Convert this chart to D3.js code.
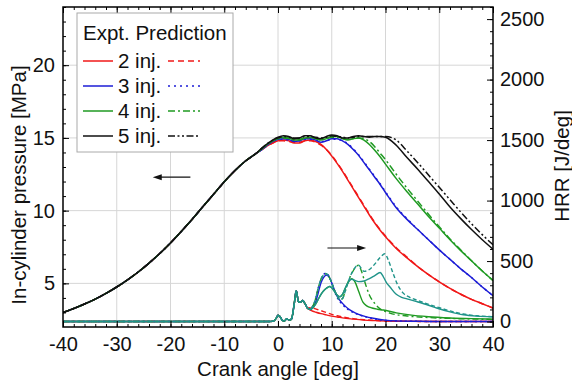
<!DOCTYPE html>
<html>
<head>
<meta charset="utf-8">
<script src="https://cdn.jsdelivr.net/npm/d3@7"></script>
<style>
  body { margin: 0; background: #fff; }
  svg { display: block; font-family: "Liberation Sans", Arial, sans-serif; }
</style>
</head>
<body>
<script>
// ---- data ----
const compAngles = [-40,-38,-36,-34,-32,-30,-28,-26,-24,-22,-20,-18,-16,-14,-12,-10,-8,-6,-4];
const compPressure = [3.0,3.27,3.58,3.92,4.31,4.75,5.24,5.78,6.39,7.05,7.78,8.57,9.39,10.26,11.12,11.98,12.76,13.43,13.95];

const combAngles = [-3,-2,-1,0,1,2,3,4,5,6,7,8,9,10,11,12,13,14,15,16,17,18,19,20,22,24,26,28,30,32,34,36,38,40];
const p2Expt = [14.2,14.45,14.65,14.8,14.85,14.8,14.65,14.65,14.8,14.85,14.75,14.55,14.2,13.75,13.25,12.7,12.1,11.5,10.9,10.3,9.7,9.15,8.65,8.2,7.4,6.75,6.15,5.6,5.1,4.65,4.25,3.9,3.6,3.3];
const p2Pred = [14.2,14.45,14.65,14.8,14.8,14.75,14.7,14.7,14.8,14.8,14.7,14.5,14.2,13.8,13.3,12.75,12.15,11.55,10.95,10.35,9.75,9.2,8.7,8.25,7.45,6.8,6.15,5.6,5.1,4.65,4.25,3.9,3.6,3.3];
const p3Expt = [14.2,14.5,14.75,14.9,14.95,14.9,14.75,14.8,14.95,14.95,14.85,14.7,14.8,14.95,14.95,14.8,14.55,14.2,13.8,13.3,12.8,12.3,11.8,11.25,10.2,9.4,8.7,8.0,7.3,6.65,6.0,5.4,4.75,4.15];
const p3Pred = [14.2,14.5,14.75,14.9,14.9,14.85,14.8,14.8,14.9,14.9,14.85,14.75,14.8,14.9,14.9,14.8,14.6,14.25,13.85,13.35,12.85,12.35,11.85,11.3,10.25,9.45,8.7,8.0,7.3,6.65,6.0,5.4,4.75,4.15];
const p4Expt = [14.25,14.55,14.8,14.95,15.05,15.0,14.85,14.85,15.0,15.05,14.95,14.85,14.95,15.1,15.1,14.95,14.85,14.95,15.0,14.85,14.55,14.15,13.7,13.2,12.2,11.3,10.45,9.6,8.8,8.0,7.25,6.55,5.85,5.2];
const p4Pred = [14.25,14.55,14.8,14.95,15.0,14.95,14.85,14.9,15.0,15.0,14.95,14.9,14.95,15.05,15.05,14.95,14.9,14.95,15.0,14.95,14.75,14.4,13.95,13.5,12.5,11.55,10.65,9.75,8.9,8.05,7.3,6.55,5.85,5.2];
const p5Expt = [14.3,14.6,14.85,15.05,15.15,15.1,14.95,15.0,15.15,15.15,15.0,14.95,15.1,15.2,15.15,15.0,15.0,15.1,15.15,15.1,15.05,15.1,15.1,15.05,14.5,13.65,12.85,12.0,11.15,10.25,9.45,8.7,8.0,7.35];
const p5Pred = [14.3,14.6,14.85,15.0,15.1,15.05,15.0,15.0,15.1,15.1,15.05,15.0,15.05,15.15,15.1,15.05,15.0,15.05,15.1,15.1,15.1,15.1,15.1,15.1,14.85,14.1,13.3,12.45,11.6,10.75,9.9,9.1,8.35,7.65];

// heat release rate [deg, J/deg]; all cases share the first-injection part
const hrrEarly = [[-40,0],[-3,0],[-1.5,0],[-0.8,5],[-0.3,30],[0,52],[0.4,40],[0.8,10],[1.2,5],[1.6,22],[2.1,12],[2.5,20],[3,140],[3.4,255],[3.8,165],[4.2,160],[4.6,175],[5,150],[5.5,110]];
const hrr2Expt = [[6,95],[6.5,85],[7,78],[8,65],[9,55],[10,45],[11,38],[12,30],[14,20],[16,12],[18,8],[20,5],[24,2],[30,0],[40,0]];
const hrr2Pred = [[6,115],[6.5,112],[7,105],[8,90],[9,75],[10,60],[11,48],[12,38],[14,24],[16,15],[18,9],[20,5],[24,2],[30,0],[40,0]];
const hrr3Expt = [[6,100],[6.5,120],[7,160],[7.5,240],[8,320],[8.5,365],[9,385],[9.5,370],[10,320],[10.5,260],[11,210],[12,150],[13,108],[14,80],[15,60],[16,45],[18,25],[20,12],[22,6],[26,2],[30,0],[40,0]];
const hrr3Pred = [[6,105],[6.5,130],[7,190],[7.5,280],[8,350],[8.5,390],[9,400],[9.5,375],[10,315],[10.5,250],[11,200],[12,140],[13,100],[14,75],[15,56],[16,42],[18,22],[20,10],[22,5],[26,2],[30,0],[40,0]];
const hrr4Expt = [[6,100],[6.5,115],[7,145],[7.5,185],[8,225],[8.5,255],[9,275],[9.6,290],[10,280],[10.5,250],[11,220],[11.5,205],[12,225],[12.5,275],[13,320],[13.7,355],[14.3,330],[15,250],[15.8,160],[16.5,130],[17.5,112],[18.5,102],[19.6,95],[22,72],[24.5,55],[28,40],[32,30],[36,24],[40,20]];
const hrr4Pred = [[6,105],[6.5,130],[7,190],[7.5,280],[8,350],[8.5,385],[9,395],[9.5,370],[10,320],[10.5,260],[11,210],[11.5,180],[12,190],[12.5,250],[13,320],[13.5,380],[14,420],[14.5,455],[15,465],[15.5,420],[16.2,320],[17,220],[18,150],[19,105],[20.8,70],[24,46],[28,33],[32,26],[36,21],[40,18]];
const hrr5Expt = [[6,100],[6.5,115],[7,145],[7.5,185],[8,225],[8.5,255],[9,275],[9.6,290],[10,280],[10.5,250],[11,220],[11.5,205],[12,225],[12.5,275],[13,320],[13.7,350],[14.3,340],[15,330],[16,335],[17,355],[18,380],[19,405],[19.6,370],[20.2,320],[20.8,288],[22,225],[23,200],[24,188],[25.8,165],[28,135],[29.5,112],[32,80],[34.5,56],[37,45],[40,40]];
const hrr5Pred = [[6,105],[6.5,130],[7,190],[7.5,280],[8,350],[8.5,385],[9,395],[9.5,370],[10,320],[10.5,260],[11,210],[11.5,180],[12,190],[12.5,250],[13,320],[13.5,380],[14,420],[14.5,455],[15,465],[15.5,440],[16,415],[17,430],[18,475],[19,530],[19.9,560],[20.5,510],[21.4,400],[22.3,300],[23.3,235],[24.5,200],[25.8,178],[27.5,150],[29.5,122],[32,88],[34.5,62],[37,48],[40,40]];

const xTicks = [-40,-30,-20,-10,0,10,20,30,40];
const pTicks = [5,10,15,20];
const hrrTicks = [0,500,1000,1500,2000,2500];
const legendLabels = ["2 inj.","3 inj.","4 inj.","5 inj."];

// ---- styles ----
const colors = ["#f01818","#1c1cd6","#1f9a22","#111111"];
const hrrColors = ["#f01818","#1c1cd6","#1f9a22","#20948a"];
const predDash = ["6,4","2,4","7,3,2,3","7,2.5,2,2.5,2,2.5"];
const hrrPredDash = ["5,3","2,3","6,3,2,3","4,2.5"];
const tickFs = "20px";
const titleFs = "20.5px";

const W = 572, H = 387;
const pLeft = 63, pRight = 493, pTop = 7, pBottom = 327;

const svg = d3.select("body").append("svg").attr("width", W).attr("height", H);

const x = d3.scaleLinear().domain([-40, 40]).range([pLeft, pRight]);
const yP = d3.scaleLinear().domain([2, 24]).range([pBottom, pTop]);
const yH = d3.scaleLinear().domain([-45, 2600]).range([pBottom, pTop]);

svg.append("defs").append("clipPath").attr("id", "plot")
  .append("rect").attr("x", pLeft).attr("y", pTop).attr("width", pRight - pLeft).attr("height", pBottom - pTop);

// grid
const grid = svg.append("g").attr("stroke", "#d6d6d6").attr("stroke-width", 1);
xTicks.slice(1, -1).forEach(t => grid.append("line")
  .attr("x1", x(t)).attr("x2", x(t)).attr("y1", pTop).attr("y2", pBottom));
pTicks.forEach(t => grid.append("line")
  .attr("x1", pLeft).attr("x2", pRight).attr("y1", yP(t)).attr("y2", yP(t)));

const plot = svg.append("g").attr("clip-path", "url(#plot)");

// pressure
const pLine = d3.line().x(d => x(d[0])).y(d => yP(d[1])).curve(d3.curveMonotoneX);
const comp = compAngles.map((a, i) => [a, compPressure[i]]);
const withComp = vals => comp.concat(combAngles.map((a, i) => [a, vals[i]]));
const pExpt = [p2Expt, p3Expt, p4Expt, p5Expt];
const pPred = [p2Pred, p3Pred, p4Pred, p5Pred];
pExpt.forEach((s, i) => {
  plot.append("path").attr("d", pLine(withComp(s))).attr("fill", "none")
    .attr("stroke", colors[i]).attr("stroke-width", 1.5);
  plot.append("path").attr("d", pLine(withComp(pPred[i]))).attr("fill", "none")
    .attr("stroke", colors[i]).attr("stroke-width", 1.5).attr("stroke-dasharray", predDash[i]);
});

// heat release rate
const hLine = d3.line().x(d => x(d[0])).y(d => yH(d[1])).curve(d3.curveMonotoneX);
const hExpt = [hrr2Expt, hrr3Expt, hrr4Expt, hrr5Expt];
const hPred = [hrr2Pred, hrr3Pred, hrr4Pred, hrr5Pred];
hExpt.forEach((s, i) => {
  plot.append("path").attr("d", hLine(hrrEarly.concat(s))).attr("fill", "none")
    .attr("stroke", hrrColors[i]).attr("stroke-width", 1.4);
  plot.append("path").attr("d", hLine(hrrEarly.concat(hPred[i]))).attr("fill", "none")
    .attr("stroke", hrrColors[i]).attr("stroke-width", 1.4).attr("stroke-dasharray", hrrPredDash[i]);
});

// axes (ticks point inward)
function styleAxis(g) {
  g.attr("font-size", null).attr("font-family", null);
  g.select(".domain").remove();
  g.selectAll("line").attr("stroke", "#000").attr("stroke-width", 1);
  g.selectAll("text").attr("fill", "#111").style("font-size", tickFs);
}
const minorX = d3.range(-40, 41, 2);
svg.append("g").attr("transform", `translate(0,${pBottom})`)
  .call(d3.axisBottom(x).tickValues(minorX).tickSize(-3).tickFormat("")).call(styleAxis);
svg.append("g").attr("transform", `translate(0,${pBottom})`)
  .call(d3.axisBottom(x).tickValues(xTicks).tickSize(-6).tickPadding(10).tickFormat(d => String(d))).call(styleAxis);
svg.append("g").attr("transform", `translate(0,${pTop})`)
  .call(d3.axisTop(x).tickValues(minorX).tickSize(-3).tickFormat("")).call(styleAxis);
svg.append("g").attr("transform", `translate(0,${pTop})`)
  .call(d3.axisTop(x).tickValues(xTicks).tickSize(-6).tickFormat("")).call(styleAxis);

svg.append("g").attr("transform", `translate(${pLeft},0)`)
  .call(d3.axisLeft(yP).tickValues(d3.range(3, 25)).tickSize(-3).tickFormat("")).call(styleAxis);
svg.append("g").attr("transform", `translate(${pLeft},0)`)
  .call(d3.axisLeft(yP).tickValues(pTicks).tickSize(-6).tickPadding(8).tickFormat(d => String(d))).call(styleAxis);

svg.append("g").attr("transform", `translate(${pRight},0)`)
  .call(d3.axisRight(yH).tickValues(d3.range(0, 2601, 100)).tickSize(-3).tickFormat("")).call(styleAxis);
svg.append("g").attr("transform", `translate(${pRight},0)`)
  .call(d3.axisRight(yH).tickValues(hrrTicks).tickSize(-6).tickPadding(7).tickFormat(d => String(d))).call(styleAxis);

svg.append("rect").attr("x", pLeft).attr("y", pTop).attr("width", pRight - pLeft).attr("height", pBottom - pTop)
  .attr("fill", "none").attr("stroke", "#000").attr("stroke-width", 1.5);

// axis titles
svg.append("text").attr("x", (pLeft + pRight) / 2).attr("y", 376).attr("text-anchor", "middle")
  .style("font-size", titleFs).attr("fill", "#111").text("Crank angle [deg]");
svg.append("text").attr("transform", "translate(26,185) rotate(-90)").attr("text-anchor", "middle")
  .style("font-size", titleFs).attr("fill", "#111").text("In-cylinder pressure [MPa]");
svg.append("text").attr("transform", "translate(569,166) rotate(-90)").attr("text-anchor", "middle")
  .style("font-size", titleFs).attr("fill", "#111").text("HRR [J/deg]");

// direction arrows
function arrow(x1, x2, yv) {
  const dir = Math.sign(x2 - x1);
  svg.append("line").attr("x1", x1).attr("x2", x2 - dir * 6).attr("y1", yv).attr("y2", yv)
    .attr("stroke", "#111").attr("stroke-width", 1.2);
  svg.append("path").attr("d", `M${x2},${yv}L${x2 - dir * 9},${yv - 3}L${x2 - dir * 9},${yv + 3}Z`).attr("fill", "#111");
}
arrow(x(-16.3), x(-23.3), yP(12.3));
arrow(x(9.2), x(16.4), yH(608));

// legend
const lg = svg.append("g");
lg.append("rect").attr("x", 77).attr("y", 13).attr("width", 156).attr("height", 139)
  .attr("fill", "#fff").attr("stroke", "#aaa").attr("stroke-width", 1);
lg.append("text").attr("x", 83).attr("y", 40).style("font-size", titleFs).attr("fill", "#111").text("Expt. Prediction");
legendLabels.forEach((lab, i) => {
  const yy = 61 + i * 25;
  lg.append("line").attr("x1", 83).attr("x2", 113).attr("y1", yy).attr("y2", yy)
    .attr("stroke", colors[i]).attr("stroke-width", 1.5);
  lg.append("text").attr("x", 118).attr("y", yy + 7).style("font-size", titleFs).attr("fill", "#111").text(lab);
  lg.append("line").attr("x1", 168).attr("x2", 200).attr("y1", yy).attr("y2", yy)
    .attr("stroke", colors[i]).attr("stroke-width", 1.5).attr("stroke-dasharray", predDash[i]);
});
</script>
</body>
</html>
